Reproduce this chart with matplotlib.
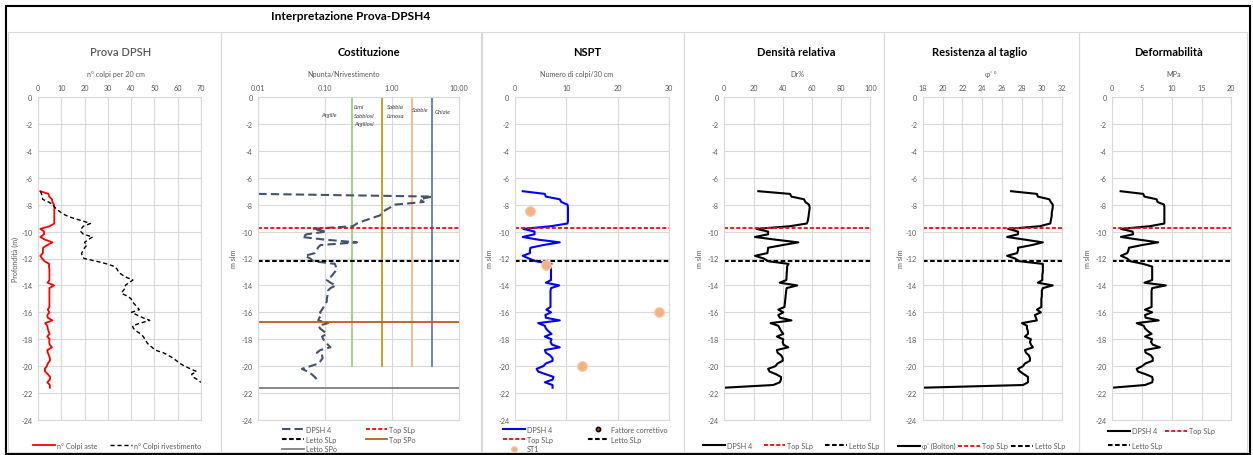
import matplotlib
matplotlib.use('Agg')
import matplotlib.pyplot as plt
from matplotlib.patches import Rectangle
from matplotlib.ticker import FuncFormatter, NullLocator

plt.rcParams['font.family'] = ['Lato', 'DejaVu Sans']
plt.rcParams['axes.unicode_minus'] = False

# ---------------- data ----------------
depth = [-7.0, -7.2, -7.4, -7.6, -7.8, -8.0, -8.2, -8.4, -8.6, -8.8,
         -9.0, -9.2, -9.4, -9.6, -9.8, -10.0, -10.2, -10.4, -10.6, -10.8,
         -11.0, -11.2, -11.4, -11.6, -11.8, -12.0, -12.2, -12.4, -12.6, -12.8,
         -13.0, -13.2, -13.4, -13.6, -13.8, -14.0, -14.2, -14.4, -14.6, -14.8,
         -15.0, -15.2, -15.4, -15.6, -15.8, -16.0, -16.2, -16.4, -16.6, -16.8,
         -17.0, -17.2, -17.4, -17.6, -17.8, -18.0, -18.2, -18.4, -18.6, -18.8,
         -19.0, -19.2, -19.4, -19.6, -19.8, -20.0, -20.2, -20.4, -20.6, -20.8,
         -21.0, -21.2, -21.4, -21.6]

# n° colpi aste (per 20 cm)
n_aste = [1.0, 4.5, 4.8, 6.0, 6.2, 6.8, 7.0, 7.0, 7.0, 7.0,
          7.0, 7.0, 7.0, 5.0, 1.0, 2.6, 2.6, 1.0, 3.0, 6.2,
          4.0, 2.2, 2.1, 2.1, 1.0, 1.8, 2.8, 4.8, 4.7, 4.9,
          4.9, 4.9, 4.9, 4.9, 4.1, 6.9, 4.9, 4.9, 4.9, 4.9,
          4.9, 4.9, 4.9, 4.9, 4.2, 4.9, 4.0, 4.2, 6.2, 3.1,
          4.0, 4.2, 4.5, 5.0, 4.0, 5.0, 4.8, 5.0, 6.0, 4.0,
          4.2, 4.7, 5.1, 5.1, 4.2, 3.8, 2.9, 3.1, 4.2, 5.2,
          5.1, 4.0, 5.1, 5.1]

# n° colpi rivestimento (depth -7.0 .. -21.2)
n_riv = [1.0, 1.5, 1.8, 2.0, 4.5, 6.5, 7.2, 8.5, 10.0, 12.0,
         15.0, 19.0, 22.5, 19.5, 18.5, 18.4, 19.5, 23.5, 21.5, 20.0,
         21.0, 20.0, 19.5, 18.7, 19.0, 19.8, 25.0, 29.5, 33.0, 34.0,
         34.5, 36.0, 38.0, 40.8, 39.0, 37.5, 37.5, 36.5, 35.9, 38.5,
         40.0, 40.5, 41.5, 42.5, 43.5, 40.2, 42.5, 45.0, 48.0, 44.0,
         40.6, 41.0, 42.3, 44.0, 45.2, 46.0, 46.6, 47.5, 49.0, 50.2,
         53.8, 56.0, 58.0, 59.5, 61.0, 63.0, 65.5, 68.1, 66.0, 66.5,
         68.5, 70.0]

# Npunta / Nrivestimento (depth -7.2 .. -21.0)
costit = [0.01, 4.0, 2.6, 3.0, 1.1, 0.95, 0.8, 0.72, 0.66,
          0.5, 0.38, 0.3, 0.26, 0.065, 0.105, 0.053, 0.045, 0.1, 0.30,
          0.085, 0.078, 0.075, 0.07, 0.05, 0.06, 0.066, 0.14, 0.145, 0.15,
          0.14, 0.13, 0.12, 0.106, 0.12, 0.145, 0.12, 0.11, 0.11, 0.108,
          0.106, 0.106, 0.1, 0.095, 0.09, 0.084, 0.09, 0.082, 0.079, 0.11,
          0.08, 0.084, 0.095, 0.106, 0.09, 0.094, 0.1, 0.11, 0.12, 0.085,
          0.075, 0.09, 0.092, 0.086, 0.08, 0.06, 0.045, 0.055, 0.063, 0.07,
          0.075]

nspt = [1.5, 5.8, 6.0, 8.7, 9.0, 10.2, 10.3, 10.3, 10.3, 10.3,
        10.3, 10.3, 10.2, 7.0, 1.6, 3.8, 3.8, 1.5, 4.5, 8.7,
        5.5, 3.0, 2.9, 2.9, 1.5, 2.7, 4.0, 7.1, 6.8, 7.0,
        7.0, 7.0, 7.0, 7.0, 6.0, 8.6, 7.0, 6.9, 6.9, 6.9,
        6.9, 6.9, 6.9, 6.9, 6.1, 7.0, 5.9, 6.0, 8.7, 4.5,
        5.8, 6.0, 6.5, 7.1, 5.8, 7.1, 6.9, 7.2, 8.7, 5.8,
        6.0, 6.8, 7.3, 7.3, 6.0, 5.5, 4.2, 4.5, 6.0, 7.5,
        7.3, 5.8, 7.3, 7.3]

dr = [23.3, 45.0, 46.0, 54.6, 55.5, 58.0, 58.5, 58.3, 58.0, 57.8,
      57.5, 57.2, 56.5, 45.0, 22.0, 30.0, 30.0, 21.0, 35.0, 50.7,
      40.0, 30.0, 29.8, 29.5, 21.0, 27.0, 30.0, 44.0, 43.0, 43.0,
      42.8, 42.7, 42.6, 42.5, 38.0, 50.0, 42.7, 42.4, 42.2, 42.0,
      41.8, 41.6, 41.4, 41.2, 37.0, 40.4, 37.0, 38.0, 46.0, 31.7,
      37.0, 38.0, 39.0, 40.4, 36.0, 40.4, 40.0, 40.5, 43.8, 36.0,
      36.5, 39.0, 40.0, 40.0, 36.5, 35.0, 30.0, 31.0, 35.5, 38.8,
      38.8, 38.0, 33.5, 0.0]

phi = [26.9, 29.5, 29.6, 30.75, 30.9, 31.1, 31.1, 31.05, 31.0, 31.0,
       30.95, 30.9, 30.85, 29.8, 26.6, 27.6, 27.6, 26.5, 28.3, 30.1,
       29.0, 27.6, 27.6, 27.5, 26.5, 27.3, 27.7, 30.1, 30.1, 30.1,
       30.1, 30.05, 30.05, 30.05, 29.6, 31.1, 30.1, 30.0, 30.0, 30.0,
       29.95, 29.95, 29.95, 29.95, 29.5, 29.9, 29.3, 29.4, 29.5, 28.0,
       28.5, 28.5, 28.6, 28.6, 28.3, 28.9, 28.8, 28.9, 29.1, 28.3,
       28.4, 28.7, 28.8, 28.8, 28.3, 28.1, 27.6, 27.8, 28.2, 28.6,
       28.6, 28.6, 28.1, 18.0]

mpa = [1.4, 5.2, 5.4, 7.45, 7.6, 8.7, 8.75, 8.75, 8.75, 8.75,
       8.75, 8.75, 8.75, 6.3, 1.45, 3.4, 3.5, 1.45, 4.5, 7.7,
       5.0, 2.8, 2.7, 2.5, 1.45, 2.5, 3.0, 5.2, 6.7, 6.7,
       6.7, 6.7, 6.7, 6.7, 5.4, 9.0, 6.7, 6.6, 6.6, 6.6,
       6.6, 6.6, 6.6, 6.6, 5.5, 6.7, 5.5, 5.6, 7.8, 4.1,
       5.3, 5.5, 6.0, 6.6, 5.5, 6.7, 6.5, 6.8, 8.0, 5.5,
       5.6, 6.5, 6.8, 6.8, 5.6, 5.0, 4.1, 4.3, 5.6, 6.7,
       6.8, 6.7, 5.5, 0.0]

st1_n = [3, 6, 28, 13]
st1_depth = [-8.5, -12.5, -16.0, -20.0]

top_slp = -9.7
letto_slp = -12.15
top_spo = -16.7
letto_spo = -21.6

zone_bounds = [0.25, 0.7, 2.0, 4.0]
zone_colors = ['#9BC97A', '#BF9000', '#F4B183', '#5470A8']
zone_depth = [0, -20]

# ---------------- layout ----------------
W, H = 1253, 456
fig = plt.figure(figsize=(W / 100, H / 100), dpi=100)

GRID = '#D9D9D9'
TXT = '#595959'


def fpx(x, y):
    return x / W, 1 - y / H


def make_ax(l, r, t=98, b=421):
    ax = fig.add_axes([l / W, 1 - b / H, (r - l) / W, (b - t) / H])
    ax.set_ylim(-24, 0)
    ax.set_yticks(list(range(0, -25, -2)))
    ax.xaxis.tick_top()
    ax.tick_params(length=0, labelsize=5.2, colors=TXT, pad=4)
    ax.grid(True, color=GRID, lw=0.8)
    ax.set_axisbelow(True)
    for s in ax.spines.values():
        s.set_color(GRID)
        s.set_linewidth(0.8)
    return ax


# outer frame and panel boxes
fig.add_artist(Rectangle(fpx(6, 455), (1250 - 6) / W, (455 - 7) / H,
                         transform=fig.transFigure, fill=False, ec='black', lw=1.5))
for l, r in [(8, 221.5), (221.5, 481), (482, 684), (684, 884), (884, 1078.5), (1079, 1246.5)]:
    fig.add_artist(Rectangle(fpx(l, 453), (r - l) / W, (453 - 33) / H,
                             transform=fig.transFigure, fill=False, ec=GRID, lw=0.8))

fig.text(*fpx(271, 16), 'Interpretazione Prova-DPSH4', fontsize=8.6, fontweight='bold',
         ha='left', va='center')


def titles(cx, title, lx, label, ylx, ylabel, tcolor='black', tweight='bold'):
    fig.text(*fpx(cx, 53), title, fontsize=8.0, fontweight=tweight, color=tcolor,
             ha='center', va='center')
    fig.text(*fpx(lx, 74.5), label, fontsize=5.2, color=TXT, ha='center', va='center')
    fig.text(*fpx(ylx, 259), ylabel, fontsize=5.2, color=TXT, ha='center', va='center',
             rotation=90)


def legend(handles, labels, x, y, ncol, colsp, ls=0.35):
    fig.legend(handles, labels, loc='upper left', bbox_to_anchor=fpx(x, y), ncol=ncol,
               frameon=False, fontsize=5.2, labelcolor=TXT, handlelength=3.0,
               handletextpad=0.3, columnspacing=colsp, labelspacing=ls,
               borderpad=0, borderaxespad=0, markerscale=0.6)


def slp_lines(ax):
    a = ax.axhline(top_slp, color='#FF0000', lw=1.3, ls=(0, (2.2, 1.2)))
    b = ax.axhline(letto_slp, color='black', lw=1.5, ls=(0, (2.2, 1.2)))
    return a, b


# Panel 1 - Prova DPSH
ax1 = make_ax(38, 201)
ax1.set_xlim(0, 70)
ax1.set_xticks(list(range(0, 71, 10)))
h1, = ax1.plot(n_aste, depth, color='#FF0000', lw=1.3)
h2, = ax1.plot(n_riv, depth[:len(n_riv)], color='black', lw=1.0, ls=(0, (3, 2)))
titles(120.5, 'Prova DPSH', 116, 'n° colpi per 20 cm', 15, 'Profondità (m)',
       tcolor='#595959', tweight='semibold')
legend([h1, h2], ['n° Colpi aste', 'n° Colpi rivestimento'], 33, 443, 2, 1.8)

# Panel 2 - Costituzione
ax2 = make_ax(258.3, 458.7)
ax2.set_xscale('log')
ax2.set_xlim(0.01, 10)
ax2.set_xticks([0.01, 0.1, 1, 10])
ax2.xaxis.set_major_formatter(FuncFormatter(lambda v, p: f'{v:.2f}'))
ax2.xaxis.set_minor_locator(NullLocator())
for b, c in zip(zone_bounds, zone_colors):
    ax2.plot([b, b], zone_depth, color=c, lw=1.2)
c1, = ax2.plot(costit, depth[1:1 + len(costit)], color='#44546A', lw=1.5, ls=(0, (4, 2)))
c2, c3 = slp_lines(ax2)
c4 = ax2.axhline(top_spo, color='#C55A11', lw=1.3)
c5 = ax2.axhline(letto_spo, color='#7F7F7F', lw=1.3)
titles(368.5, 'Costituzione', 344, 'Npunta/Nrivestimento', 234, 'm slm')
legend([c1, c3, c5, c2, c4], ['DPSH 4', 'Letto SLp', 'Letto SPo', 'Top SLp', 'Top SPo'],
       282, 427, 2, 4.0)
zkw = dict(fontsize=4.3, style='italic', color='#404040')
fig.text(*fpx(329, 115), 'Argille', ha='center', va='center', **zkw)
for i, t in enumerate(['Limi', 'Sabbiosi', 'Argillosi']):
    fig.text(*fpx(354, 107.5 + 8.5 * i), t, ha='left', va='center', **zkw)
for i, t in enumerate(['Sabbia', 'Limosa']):
    fig.text(*fpx(387, 107.5 + 8.5 * i), t, ha='left', va='center', **zkw)
fig.text(*fpx(411.5, 111), 'Sabbie', ha='left', va='center', **zkw)
fig.text(*fpx(435, 112), 'Ghiaie', ha='left', va='center', **zkw)

# Panel 3 - NSPT
ax3 = make_ax(515, 669.3)
ax3.set_xlim(0, 30)
ax3.set_xticks([0, 10, 20, 30])
n1, = ax3.plot(nspt, depth, color='#0000FF', lw=1.5)
n2, = ax3.plot([], [], 'o', ms=5, mfc='#C55A11', mec='black', mew=1.2)
n3, n4 = slp_lines(ax3)
n5, = ax3.plot(st1_n, st1_depth, 'o', ms=7, color='#F4B183', mec='#F8CBAD', mew=0.8)
titles(586.7, 'NSPT', 576.7, 'Numero di colpi/30 cm', 490, 'm slm')
legend([n1, n3, n5, n2, n4], ['DPSH 4', 'Top SLp', 'ST1', 'Fattore correttivo', 'Letto SLp'],
       503, 427, 2, 4.8)

# Panel 4 - Densità relativa
ax4 = make_ax(724.3, 870.3)
ax4.set_xlim(0, 100)
ax4.set_xticks(list(range(0, 101, 20)))
d1, = ax4.plot(dr, depth, color='black', lw=1.5)
d2, d3 = slp_lines(ax4)
titles(796, 'Densità relativa', 797, 'Dr%', 700, 'm slm')
legend([d1, d2, d3], ['DPSH 4', 'Top SLp', 'Letto SLp'], 703, 443, 3, 1.6)

# Panel 5 - Resistenza al taglio
ax5 = make_ax(922.7, 1061.7)
ax5.set_xlim(18, 32)
ax5.set_xticks(list(range(18, 33, 2)))
p1, = ax5.plot(phi, depth, color='black', lw=1.5)
p2, p3 = slp_lines(ax5)
titles(979.7, 'Resistenza al taglio', 991, "φ' °", 900, 'm slm')
legend([p1, p2, p3], ["φ' (Bolton)", 'Top SLp', 'Letto SLp'], 898, 443, 3, 0.4)

# Panel 6 - Deformabilità
ax6 = make_ax(1112.3, 1231.3)
ax6.set_xlim(0, 20)
ax6.set_xticks([0, 5, 10, 15, 20])
m1, = ax6.plot(mpa, depth, color='black', lw=1.5)
m2, m3 = slp_lines(ax6)
titles(1168.7, 'Deformabilità', 1174, 'MPa', 1088, 'm slm')
legend([m1, m3, m2], ['DPSH 4', 'Letto SLp', 'Top SLp'], 1108, 428.5, 2, 0.4, ls=1.0)

fig.savefig('out.png', dpi=100)
